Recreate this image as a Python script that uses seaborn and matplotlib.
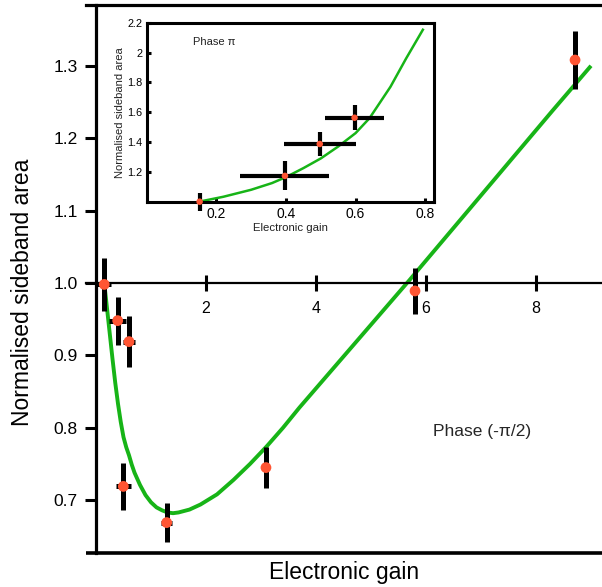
import matplotlib
matplotlib.use("Agg")
import matplotlib.pyplot as plt
import seaborn as sns
import pandas as pd

# main panel, phase -pi/2
gain = [0.15, 0.394, 0.60, 0.497, 1.285, 3.09, 5.80, 8.71]
area = [0.998, 0.948, 0.919, 0.719, 0.669, 0.745, 0.989, 1.308]
area_err = [0.037, 0.033, 0.035, 0.032, 0.027, 0.028, 0.032, 0.040]
gain_err = [0.13, 0.155, 0.11, 0.136, 0.10, 0.0, 0.0, 0.0]

fit_gain = [0.15, 0.2, 0.25, 0.3, 0.35, 0.4, 0.45, 0.5, 0.55, 0.6, 0.65, 0.7, 0.8,
            0.9, 1.0, 1.1, 1.2, 1.3, 1.4, 1.5, 1.7, 1.9, 2.2, 2.5, 2.8, 3.1, 3.4,
            3.7, 4.2, 4.7, 5.2, 5.7, 6.5, 7.5, 8.3, 9.0]
fit_area = [1.0, 0.965, 0.93, 0.895, 0.862, 0.833, 0.808, 0.787, 0.773, 0.762,
            0.749, 0.738, 0.721, 0.707, 0.697, 0.690, 0.686, 0.683, 0.682, 0.683,
            0.687, 0.694, 0.708, 0.728, 0.75, 0.774, 0.8, 0.828, 0.872, 0.916,
            0.96, 1.004, 1.076, 1.166, 1.238, 1.30]

# inset, phase pi
in_gain = [0.152, 0.397, 0.497, 0.597]
in_area = [1.0, 1.173, 1.387, 1.563]
in_area_err = [0.06, 0.097, 0.083, 0.083]
in_gain_err = [0.0, 0.128, 0.104, 0.085]

in_fit_gain = [0.15, 0.22, 0.3, 0.36, 0.4, 0.45, 0.5, 0.55, 0.6, 0.64, 0.7, 0.745, 0.795]
in_fit_area = [1.0, 1.033, 1.08, 1.125, 1.165, 1.225, 1.29, 1.37, 1.46, 1.56, 1.77, 1.96, 2.16]

green = "#17b417"
dot = "#ff5533"

sns.set_theme(style="white")
plt.rcParams["font.family"] = ["Liberation Sans", "DejaVu Sans"]
plt.rcParams["lines.solid_capstyle"] = "butt"

fig = plt.figure(figsize=(6.02, 5.87), dpi=100)
ax = fig.add_axes([86 / 602, 34 / 587, 516 / 602, 548 / 587])

main = pd.DataFrame({"gain": gain, "area": area})
fit = pd.DataFrame({"gain": fit_gain, "area": fit_area})

sns.lineplot(data=fit, x="gain", y="area", sort=False, color=green, lw=2.8, ax=ax, zorder=2)
ax.errorbar(gain, area, yerr=area_err, xerr=gain_err, fmt="none", ecolor="black",
            elinewidth=3.6, capsize=0, zorder=3)
sns.scatterplot(data=main, x="gain", y="area", color=dot, s=60, edgecolor="none", ax=ax, zorder=4)

ax.set_xlim(-0.182, 9.2)
ax.set_ylim(0.627, 1.384)
ax.set_xticks([2, 4, 6, 8])
ax.set_yticks([0.7, 0.8, 0.9, 1.0, 1.1, 1.2, 1.3])
ax.set_yticklabels(["0.7", "0.8", "0.9", "1.0", "1.1", "1.2", "1.3"])

ax.spines["right"].set_visible(False)
ax.spines["left"].set_position(("data", 0))
ax.spines["bottom"].set_position(("data", 1.0))
for s in ["left", "top"]:
    ax.spines[s].set_linewidth(2.3)
    ax.spines[s].set_color("black")
ax.spines["bottom"].set_linewidth(1.6)
ax.spines["bottom"].set_color("black")
ax.plot([0, 1], [0, 0], transform=ax.transAxes, color="black", lw=2.6, clip_on=False)

ax.tick_params(axis="y", direction="out", length=8, width=2.2, pad=5, labelsize=12.5,
               colors="black", left=True)
ax.tick_params(axis="x", direction="inout", length=12, width=2.2, pad=7, labelsize=11.5,
               colors="black", bottom=True)

ax.set_xlabel("Electronic gain", fontsize=16.5, color="black")
ax.xaxis.set_label_coords(0.5, -0.014)
ax.set_ylabel("Normalised sideband area", fontsize=16.5, color="black")
ax.yaxis.set_label_coords(-0.1, 0.475)

ax.text(6.12, 0.795, "Phase (-\u03c0/2)", fontsize=12.5, ha="left", va="center")

# inset
ins = fig.add_axes([146.7 / 602, 385.3 / 587, 287.6 / 602, 179 / 587])
inset = pd.DataFrame({"gain": in_gain, "area": in_area})
in_fit = pd.DataFrame({"gain": in_fit_gain, "area": in_fit_area})

sns.lineplot(data=in_fit, x="gain", y="area", sort=False, color=green, lw=1.8, ax=ins, zorder=2)
ins.errorbar(in_gain, in_area, yerr=in_area_err, xerr=in_gain_err, fmt="none",
             ecolor="black", elinewidth=3.0, capsize=0, zorder=3, clip_on=False)
sns.scatterplot(data=inset, x="gain", y="area", color=dot, s=22, edgecolor="none",
                ax=ins, zorder=4, clip_on=False)

ins.set_xlim(0, 0.826)
ins.set_ylim(1.0, 2.2)
ins.set_xticks([0.2, 0.4, 0.6, 0.8])
ins.set_xticklabels(["0.2", "0.4", "0.6", "0.8"])
ins.set_yticks([1.2, 1.4, 1.6, 1.8, 2.0, 2.2])
ins.set_yticklabels(["1.2", "1.4", "1.6", "1.8", "2", "2.2"])
for s in ins.spines.values():
    s.set_linewidth(2.2)
    s.set_color("black")
ins.tick_params(axis="both", direction="in", length=3, width=2.2, colors="black",
                left=True, bottom=True)
ins.tick_params(axis="x", labelsize=10, pad=4)
ins.tick_params(axis="y", labelsize=7.8, pad=3)
ins.set_xlabel("Electronic gain", fontsize=8.2, color="#222222", labelpad=1)
ins.set_ylabel("Normalised sideband area", fontsize=8, color="#222222", labelpad=2)
ins.text(0.161, 0.894, "Phase \u03c0", transform=ins.transAxes, fontsize=8,
         ha="left", va="center", color="#222222")

fig.savefig("out.png", dpi=100)
